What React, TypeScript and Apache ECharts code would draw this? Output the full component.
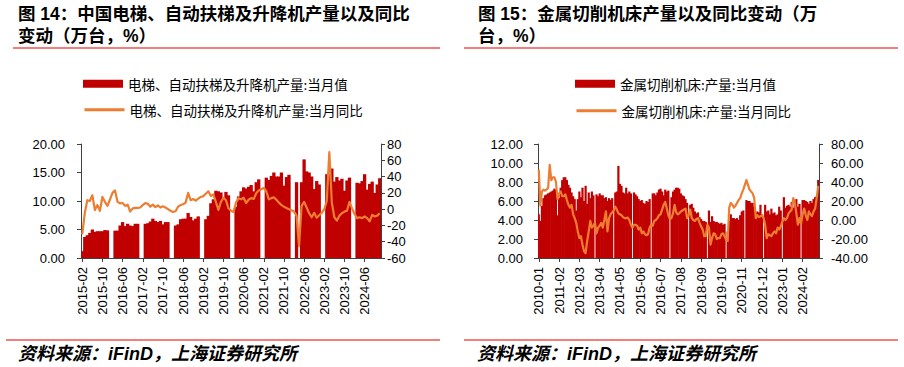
import React, { useEffect, useRef } from "react";
import * as echarts from "echarts";

// ---------- labels ----------
function monthList(sy: number, sm: number, ey: number, em: number): string[] {
  const out: string[] = [];
  let y = sy;
  let m = sm;
  while (y < ey || (y === ey && m <= em)) {
    out.push(`${y}-${m < 10 ? "0" + m : m}`);
    m++;
    if (m > 12) {
      m = 1;
      y++;
    }
  }
  return out;
}

const categories1 = monthList(2015, 2, 2024, 12); // 119 months
const categories2 = monthList(2010, 1, 2024, 12); // 180 months

const title1a = "图 14：中国电梯、自动扶梯及升降机产量以及同比";
const title1b = "变动（万台，%）";
const title2a = "图 15：金属切削机床产量以及同比变动（万";
const title2b = "台，%）";
const sourceText = "资料来源：iFinD，上海证券研究所";

const nameBar1 = "电梯、自动扶梯及升降机产量:当月值";
const nameLine1 = "电梯、自动扶梯及升降机产量:当月同比";
const nameBar2 = "金属切削机床:产量:当月值";
const nameLine2 = "金属切削机床:产量:当月同比";

// ---------- chart 1 data (万台 / %) ----------
const bars1: (number | null)[] = [
  // 2015 Feb-Dec
  1.2, 3.7, 4.0, 4.4, 5.0, 4.6, 4.7, 4.7, 4.7, 4.9, 4.85,
  // 2016
  null, null, 4.8, 4.8, 5.7, 6.3, 5.6, 6.0, 5.7, 5.6, 6.0, 6.0,
  // 2017
  null, null, 6.0, 6.1, 6.4, 6.9, 6.5, 6.3, 6.5, 5.9, 6.3, 6.3,
  // 2018
  null, null, 5.7, 5.9, 6.8, 6.9, 6.9, 7.9, 7.2, 6.6, 6.9, 7.3,
  // 2019
  null, null, 6.8, 7.4, 9.6, 10.3, 11.8, 11.7, 11.5, 10.5, 11.6, 11.0,
  // 2020
  null, null, 9.0, 10.8, 11.7, 12.4, 12.2, 12.5, 12.8, 11.7, 13.3, 13.8,
  // 2021
  null, null, 14.1, 13.7, 14.4, 15.0, 14.3, 14.3, 15.0, 12.7, 14.2, 14.6,
  // 2022
  null, null, 13.3, null, 13.3, 17.3, 15.2, 15.0, 14.3, 12.1, 13.5, 12.9,
  // 2023
  null, null, 14.7, 14.9, 15.7, 13.4, 14.2, 13.6, 13.9, 11.8, 13.6, 14.1,
  // 2024
  null, null, 13.2, 13.1, 13.5, 14.7, 12.0, 13.0, 13.4, 11.4, 12.9, 14.0,
];

const yoy1: number[] = [
  -31, -5, 11, 10, 17, -1, 5, -2, 15, 9, 4,
  12, 20, 23, 9, 7, 7.5, 4, 5.5, -3, 1, 1.5, 1.5,
  2, 5, 7.5, 6.5, 3, 5.5, 2.5, 4.5, 2, 3.5, 2, 0,
  -2, -3.5, -2.5, 3, 5, 6, 8, 20, 11, 12.5, 10.5, 13,
  15, 16, 19, 22, 16, 18, 9, -1, 9, 14, 11, 1,
  -2, -3.5, 8, 13.5, 12, 14, 7.5, 11.5, 13.5, 12.5, 19.5, 23,
  24.5, 26, 22, 12, 13.5, 14.5, 11.5, 8, 5, 3, 1.5, 0,
  -1.5, -3, -8, -45, 4, 9, 2, -5, -10, -4.5, -10.5, -7.5,
  -4.5, 0, 10, 70, 8, -10, -14, -8, -5, -3, -2, 9,
  1, -6, -11, -10, -11, -9, -11, -15, -7, -9, -8, -5,
];

// ---------- chart 2 data (万台 / %) ----------
const bars2: (number | null)[] = [
  // 2010
  4.6, 3.9, 5.5, 6.3, 6.6, 6.7, 6.8, 6.9, 7.0, 7.1, 7.3, 7.2,
  // 2011
  4.5, 6.3, 7.4, 8.2, 8.5, 8.5, 8.2, 7.7, 7.4, 6.9, 6.5, 6.2,
  // 2012
  5.0, 6.2, 7.0, 6.4, 7.4, 6.0, 7.6, 5.7, 6.9, 6.3, 7.0, 6.6,
  // 2013
  null, 6.7, 6.5, 6.8, 6.6, 6.6, 6.3, 6.4, 6.0, 6.3, 6.1, 6.3,
  // 2014
  null, 6.9, 7.0, 9.7, 7.8, 7.6, 6.9, 6.8, 7.4, 6.8, 7.0, 6.8,
  // 2015
  null, 6.9, 6.7, 6.5, 6.2, 6.0, 6.1, 5.8, 5.7, 6.0, 5.9, 6.2,
  // 2016
  null, 6.8, 6.8, 6.6, 6.9, 7.2, 7.3, 7.0, 6.6, 7.2, 7.0, 7.1,
  // 2017
  null, 6.4, 7.0, 7.2, 7.4, 7.4, 7.3, 6.8, 6.6, 6.5, 6.2, 5.8,
  // 2018
  null, 5.6, 5.7, 5.3, 4.9, 4.7, 4.8, 4.3, 4.1, 3.9, 3.9, 3.8,
  // 2019
  null, 5.0, 3.8, 4.4, 3.9, 3.8, 3.8, 3.7, 3.6, 3.7, 3.5, 3.6,
  // 2020
  null, 2.8, 3.9, 4.6, 4.2, 4.2, 4.1, 4.2, 4.0, 4.5, 4.9, 5.0,
  // 2021
  null, 6.1, 6.0, 6.0, 5.8, 5.8, 5.4, 4.8, 4.9, 4.8, 5.6, 4.6,
  // 2022
  null, 5.6, 4.9, 5.0, 4.6, 5.2, 4.7, 4.8, 4.5, 4.6, 5.4, 5.0,
  // 2023
  null, 6.4, 5.3, 5.5, 5.6, 5.4, 5.9, 5.3, 5.8, 6.2, 5.4, 5.7,
  // 2024
  null, 6.1, 6.1, 6.0, 5.9, 5.7, 6.0, 5.8, 6.2, 6.4, 6.5, 8.2,
];

const yoy2: number[] = [
  53, 15, 30, 32, 31, 32, 34, 58, 42, 45, 45, 40,
  22, 28, 30, 25, 25, 27, 21, 16, 13, 16, 6, 2,
  -3, -12, -19, -17, -26, -33, -35, -22, -12, -1, -8, -6,
  -3, -14, -8, -6, -3, -8, 0, 9, -12, 2, 6, 8,
  10, 14, 11, 7, 6, 5, 3, 2, 2, 2.5, 0, -5,
  -8, -5, -5, -6, -10, -8, -14, -12, -15, -16, -15, -8,
  -5, -6, -1, 0, 2, 5, 6, 11, 16, 19, 12, 5,
  1, 2, 7, 16, 8, 6, 7, 9, 10, 11, 12, 2,
  5, 11, 2, 0, -1, 1, 2, -3, -7, -10, -17, -17,
  -5, -8, -26, -19, -14, -15, -20, -19, -19, -15, -14, -17,
  -21, -22, 13, 18, 16, 13, 15, 18, 21, 23, 28, 32,
  37, 42, 37, 32, 30, 28, 23, 2, 5, 3, 4, 5,
  2, -5, -19, -15, -16, -17, -14, -12, -14, -8, -10, -7,
  -2, 2, 0, 2, 7, 9, 11, 23, 18, 7, -5, 2,
  -4, 6, 12, 5, 0, 9, 6, 4, 9, 12, 23, 36,
];

// ---------- styles ----------
const RED = "#C00000";
const ORANGE = "#ED7D31";
const AXIS = "#404040";
const LINE_RED = "#EF5350";
const LATIN = '"Liberation Sans", Arial, sans-serif';
const CJK = '"Noto Sans CJK SC", sans-serif';
const MIXED = '"Liberation Sans", "Noto Sans CJK SC", sans-serif';

function xAxisCfg(gridIndex: number, data: string[], interval: number) {
  return {
    type: "category" as const,
    gridIndex,
    data,
    boundaryGap: true,
    axisLine: { show: true, lineStyle: { color: AXIS, width: 1 } },
    axisTick: {
      show: true,
      interval,
      alignWithLabel: true,
      length: 4,
      lineStyle: { color: AXIS },
    },
    axisLabel: {
      interval,
      rotate: 90,
      margin: 9,
      fontSize: 13,
      color: "#000",
      fontFamily: LATIN,
    },
    splitLine: { show: false },
  };
}

function yAxisCfg(
  gridIndex: number,
  position: "left" | "right",
  min: number,
  max: number,
  interval: number,
  decimals: number,
  margin: number
) {
  return {
    type: "value" as const,
    gridIndex,
    position,
    min,
    max,
    interval,
    axisLine: { show: true, lineStyle: { color: AXIS, width: 1 } },
    axisTick: { show: true, inside: false, length: 4, lineStyle: { color: AXIS } },
    axisLabel: {
      margin,
      fontSize: 13,
      color: "#000",
      fontFamily: LATIN,
      formatter: (v: number) => v.toFixed(decimals),
    },
    splitLine: { show: false },
  };
}

const legendText = { fontSize: 13.5, color: "#000", fontFamily: CJK };

function legendCfg(name: string, left: number, top: number, isBar: boolean) {
  const base: any = {
    show: true,
    left,
    top,
    padding: 0,
    itemGap: 0,
    itemWidth: 40,
    itemHeight: 8,
    selectedMode: false,
    textStyle: legendText,
  };
  if (isBar) {
    base.data = [{ name, icon: "rect" }];
  } else {
    base.data = [{ name }];
    base.itemStyle = {
      color: "rgba(0,0,0,0)",
      borderColor: "rgba(0,0,0,0)",
      borderWidth: 0,
      opacity: 0,
    };
    base.lineStyle = { color: ORANGE, width: 3, opacity: 1 };
  }
  return base;
}

function titleText(x: number, y: number, text: string) {
  return {
    type: "text",
    x,
    y,
    style: {
      text,
      fontSize: 17.5,
      fontWeight: "bold",
      fontFamily: MIXED,
      fill: "#000",
      verticalAlign: "middle",
    },
  };
}

function rule(x1: number, x2: number, y: number) {
  return {
    type: "line",
    shape: { x1, y1: y, x2, y2: y },
    style: { stroke: LINE_RED, lineWidth: 1.3 },
  };
}

function sourceEl(x: number) {
  return {
    type: "text",
    x,
    y: 354,
    style: {
      text: sourceText,
      fontSize: 18,
      fontWeight: "bold",
      fontStyle: "italic",
      fontFamily: MIXED,
      fill: "#000",
      verticalAlign: "middle",
    },
  };
}

const barStyle = { color: RED };

export default function App() {
  const ref = useRef<HTMLDivElement>(null);

  useEffect(() => {
    document.body.style.margin = "0";
    if (!ref.current) return;
    const chart = echarts.init(ref.current, null, { renderer: "svg" });
    chart.setOption({
      animation: false,
      backgroundColor: "#fff",
      grid: [
        { left: 81, top: 144, width: 300, height: 114, containLabel: false },
        { left: 538, top: 144, width: 281, height: 114, containLabel: false },
      ],
      xAxis: [xAxisCfg(0, categories1, 7), xAxisCfg(1, categories2, 12)],
      yAxis: [
        yAxisCfg(0, "left", 0, 20, 5, 2, 16),
        yAxisCfg(0, "right", -60, 80, 20, 0, 6),
        yAxisCfg(1, "left", 0, 12, 2, 2, 15),
        yAxisCfg(1, "right", -40, 80, 20, 2, 12),
      ],
      legend: [
        legendCfg(nameBar1, 83, 77, true),
        legendCfg(nameLine1, 83, 103, false),
        legendCfg(nameBar2, 575, 77, true),
        legendCfg(nameLine2, 575, 104, false),
      ],
      series: [
        {
          name: nameBar1,
          type: "bar",
          xAxisIndex: 0,
          yAxisIndex: 0,
          data: bars1,
          barWidth: 3.3,
          itemStyle: barStyle,
        },
        {
          name: nameLine1,
          type: "line",
          xAxisIndex: 0,
          yAxisIndex: 1,
          data: yoy1,
          symbol: "none",
          connectNulls: true,
          z: 5,
          lineStyle: { color: ORANGE, width: 2.2, join: "round" },
          itemStyle: { color: ORANGE },
        },
        {
          name: nameBar2,
          type: "bar",
          xAxisIndex: 1,
          yAxisIndex: 2,
          data: bars2,
          barWidth: 2.2,
          itemStyle: barStyle,
        },
        {
          name: nameLine2,
          type: "line",
          xAxisIndex: 1,
          yAxisIndex: 3,
          data: yoy2,
          symbol: "none",
          connectNulls: true,
          z: 5,
          lineStyle: { color: ORANGE, width: 2.2, join: "round" },
          itemStyle: { color: ORANGE },
        },
      ],
      graphic: [
        titleText(18, 14, title1a),
        titleText(18, 36, title1b),
        rule(13, 440, 48),
        rule(6, 440, 340),
        sourceEl(18),
        titleText(478, 14, title2a),
        titleText(478, 36, title2b),
        rule(464, 898, 48),
        rule(464, 898, 340),
        sourceEl(477),
      ],
    });
    return () => chart.dispose();
  }, []);

  return <div ref={ref} style={{ width: 904, height: 367 }} />;
}
